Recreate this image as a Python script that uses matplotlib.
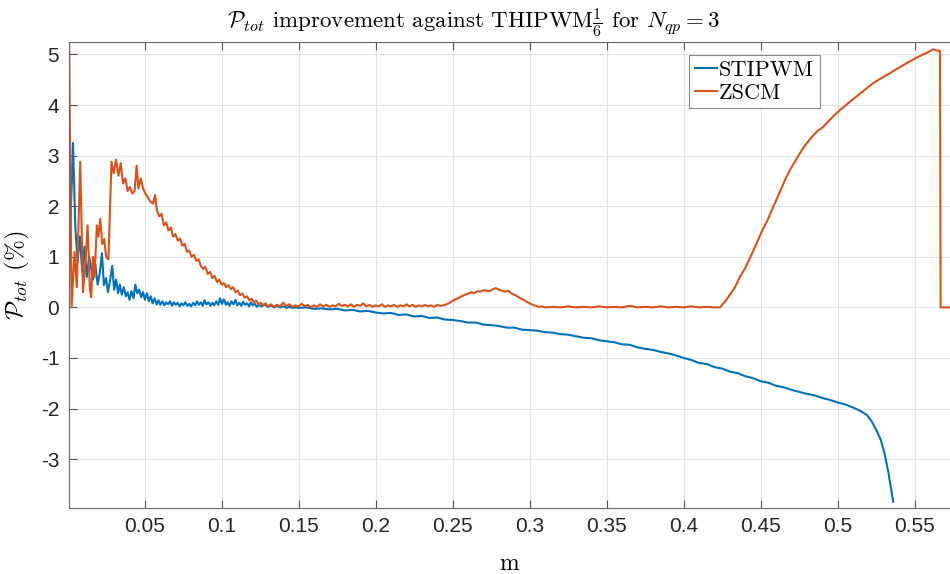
import matplotlib
matplotlib.use("Agg")
import matplotlib.pyplot as plt

plt.rcParams['mathtext.fontset'] = 'cm'

# ZSCM curve (m, P_tot improvement in %)
m_zscm = [
    0.0010, 0.0026, 0.0045, 0.0060, 0.0082, 0.0100, 0.0118, 0.0130, 0.0145, 0.0153,
    0.0165, 0.0175, 0.0190, 0.0200, 0.0212, 0.0225, 0.0238, 0.0250, 0.0265, 0.0285,
    0.0300, 0.0315, 0.0330, 0.0345, 0.0360, 0.0375, 0.0390, 0.0405, 0.0420, 0.0435,
    0.0448, 0.0460, 0.0475, 0.0490, 0.0505, 0.0520, 0.0535, 0.0555, 0.0568, 0.0580,
    0.0595, 0.0610, 0.0625, 0.0640, 0.0655, 0.0670, 0.0685, 0.0700, 0.0715, 0.0730,
    0.0745, 0.0760, 0.0775, 0.0790, 0.0805, 0.0820, 0.0835, 0.0850, 0.0865, 0.0880,
    0.0895, 0.0910, 0.0925, 0.0940, 0.0955, 0.0970, 0.0985, 0.1000, 0.1015, 0.1030,
    0.1045, 0.1060, 0.1075, 0.1090, 0.1105, 0.1120, 0.1135, 0.1150, 0.1165, 0.1180,
    0.1195, 0.1210, 0.1225, 0.1240, 0.1255, 0.1270, 0.1285, 0.1300, 0.1320, 0.1340,
    0.1360, 0.1380, 0.1400, 0.1420, 0.1440, 0.1460, 0.1480, 0.1500, 0.1520, 0.1540,
    0.1560, 0.1580, 0.1600, 0.1620, 0.1640, 0.1660, 0.1680, 0.1700, 0.1720, 0.1740,
    0.1760, 0.1780, 0.1800, 0.1820, 0.1840, 0.1860, 0.1880, 0.1900, 0.1920, 0.1940,
    0.1960, 0.1980, 0.2000, 0.2020, 0.2040, 0.2060, 0.2080, 0.2100, 0.2120, 0.2140,
    0.2160, 0.2180, 0.2200, 0.2220, 0.2240, 0.2260, 0.2280, 0.2300, 0.2320, 0.2340,
    0.2360, 0.2380, 0.2400, 0.2420, 0.2440, 0.2460, 0.2480, 0.2500, 0.2520, 0.2540,
    0.2560, 0.2580, 0.2600, 0.2620, 0.2640, 0.2660, 0.2680, 0.2700, 0.2720, 0.2740,
    0.2760, 0.2780, 0.2800, 0.2820, 0.2840, 0.2860, 0.2880, 0.2900, 0.2920, 0.2940,
    0.2960, 0.2980, 0.3000, 0.3020, 0.3040, 0.3060, 0.3080, 0.3100, 0.3150, 0.3200,
    0.3250, 0.3300, 0.3350, 0.3400, 0.3450, 0.3500, 0.3550, 0.3600, 0.3650, 0.3700,
    0.3750, 0.3800, 0.3850, 0.3900, 0.3950, 0.4000, 0.4050, 0.4100, 0.4150, 0.4200,
    0.4236, 0.4270, 0.4300, 0.4330, 0.4366, 0.4400, 0.4440, 0.4474, 0.4510, 0.4545,
    0.4582, 0.4620, 0.4655, 0.4690, 0.4730, 0.4765, 0.4800, 0.4835, 0.4870, 0.4906,
    0.4940, 0.4975, 0.5015, 0.5050, 0.5085, 0.5123, 0.5160, 0.5195, 0.5230, 0.5265,
    0.5300, 0.5340, 0.5375, 0.5410, 0.5448, 0.5485, 0.5520, 0.5555, 0.5590, 0.5620,
    0.5640, 0.5664, 0.5668, 0.5730,
]
p_zscm = [
    5.24, 0.00, 1.10, 0.40, 2.88, 0.30, 1.00, 1.62, 0.35, 0.20,
    1.00, 0.60, 1.62, 1.40, 1.75, 1.25, 1.35, 1.00, 0.95, 2.88,
    2.65, 2.92, 2.60, 2.85, 2.45, 2.55, 2.30, 2.38, 2.25, 2.30,
    2.80, 2.35, 2.55, 2.35, 2.25, 2.18, 2.10, 2.05, 2.22, 1.92,
    1.80, 1.85, 1.62, 1.68, 1.52, 1.58, 1.40, 1.45, 1.32, 1.36,
    1.22, 1.26, 1.10, 1.12, 1.00, 1.04, 0.92, 0.95, 0.82, 0.76,
    0.80, 0.66, 0.70, 0.58, 0.62, 0.50, 0.55, 0.45, 0.48, 0.40,
    0.44, 0.36, 0.40, 0.30, 0.33, 0.24, 0.27, 0.19, 0.22, 0.14,
    0.17, 0.10, 0.13, 0.06, 0.09, 0.04, 0.08, 0.02, 0.06, 0.01,
    0.05, 0.02, 0.09, 0.03, 0.06, 0.01, 0.04, 0.02, 0.07, 0.02,
    0.05, 0.00, 0.04, 0.01, 0.06, 0.02, 0.05, 0.01, 0.04, 0.02,
    0.07, 0.03, 0.05, 0.02, 0.06, 0.01, 0.05, 0.03, 0.08, 0.02,
    0.05, 0.01, 0.04, 0.02, 0.06, 0.01, 0.04, 0.02, 0.05, 0.01,
    0.04, 0.02, 0.06, 0.02, 0.05, 0.01, 0.04, 0.02, 0.05, 0.02,
    0.04, 0.01, 0.05, 0.03, 0.04, 0.06, 0.09, 0.13, 0.16, 0.19,
    0.22, 0.25, 0.27, 0.30, 0.28, 0.32, 0.31, 0.34, 0.33, 0.32,
    0.36, 0.38, 0.35, 0.33, 0.31, 0.33, 0.28, 0.25, 0.22, 0.18,
    0.15, 0.11, 0.08, 0.05, 0.03, 0.01, 0.02, 0.00, 0.01, 0.00,
    0.02, 0.00, 0.01, 0.00, 0.02, 0.00, 0.01, 0.00, 0.03, 0.00,
    0.01, 0.00, 0.02, 0.00, 0.01, 0.00, 0.02, 0.00, 0.01, 0.00,
    0.00, 0.12, 0.25, 0.38, 0.61, 0.78, 1.04, 1.27, 1.52, 1.73,
    1.99, 2.25, 2.50, 2.72, 2.92, 3.10, 3.25, 3.38, 3.49, 3.57,
    3.68, 3.79, 3.90, 3.99, 4.08, 4.17, 4.26, 4.35, 4.43, 4.50,
    4.56, 4.63, 4.70, 4.76, 4.83, 4.89, 4.95, 5.00, 5.05, 5.10,
    5.08, 5.07, 0.00, 0.00,
]

# STIPWM curve
m_stipwm = [
    0.0010, 0.0035, 0.0050, 0.0065, 0.0080, 0.0095, 0.0110, 0.0125, 0.0140, 0.0155,
    0.0165, 0.0180, 0.0195, 0.0210, 0.0223, 0.0236, 0.0250, 0.0262, 0.0275, 0.0290,
    0.0302, 0.0315, 0.0328, 0.0340, 0.0352, 0.0365, 0.0378, 0.0390, 0.0402, 0.0415,
    0.0428, 0.0440, 0.0452, 0.0465, 0.0478, 0.0490, 0.0502, 0.0515, 0.0528, 0.0540,
    0.0552, 0.0565, 0.0578, 0.0590, 0.0602, 0.0615, 0.0628, 0.0640, 0.0652, 0.0665,
    0.0678, 0.0690, 0.0702, 0.0715, 0.0728, 0.0740, 0.0752, 0.0765, 0.0778, 0.0790,
    0.0802, 0.0815, 0.0828, 0.0840, 0.0852, 0.0865, 0.0878, 0.0890, 0.0902, 0.0915,
    0.0928, 0.0940, 0.0952, 0.0965, 0.0978, 0.0990, 0.1002, 0.1015, 0.1028, 0.1040,
    0.1052, 0.1065, 0.1078, 0.1090, 0.1102, 0.1115, 0.1128, 0.1140, 0.1152, 0.1165,
    0.1178, 0.1190, 0.1202, 0.1215, 0.1228, 0.1240, 0.1260, 0.1280, 0.1300, 0.1320,
    0.1340, 0.1360, 0.1380, 0.1400, 0.1420, 0.1440, 0.1460, 0.1480, 0.1500, 0.1550,
    0.1600, 0.1650, 0.1700, 0.1750, 0.1800, 0.1850, 0.1900, 0.1950, 0.2000, 0.2050,
    0.2100, 0.2150, 0.2200, 0.2250, 0.2300, 0.2350, 0.2400, 0.2450, 0.2500, 0.2550,
    0.2600, 0.2650, 0.2700, 0.2750, 0.2800, 0.2850, 0.2900, 0.2950, 0.3000, 0.3050,
    0.3100, 0.3150, 0.3200, 0.3250, 0.3300, 0.3350, 0.3400, 0.3450, 0.3500, 0.3550,
    0.3600, 0.3650, 0.3700, 0.3750, 0.3800, 0.3850, 0.3900, 0.3950, 0.4000, 0.4050,
    0.4100, 0.4150, 0.4200, 0.4250, 0.4300, 0.4350, 0.4400, 0.4450, 0.4500, 0.4550,
    0.4600, 0.4650, 0.4700, 0.4750, 0.4800, 0.4850, 0.4900, 0.4950, 0.5000, 0.5050,
    0.5100, 0.5150, 0.5190, 0.5220, 0.5250, 0.5280, 0.5305, 0.5330, 0.5360,
]
p_stipwm = [
    0.80, 3.25, 1.60, 0.90, 1.40, 0.70, 1.20, 0.60, 1.00, 0.75,
    0.55, 0.85, 0.45, 0.70, 1.07, 0.44, 0.58, 0.30, 0.52, 0.82,
    0.35, 0.55, 0.28, 0.45, 0.25, 0.40, 0.22, 0.30, 0.15, 0.32,
    0.18, 0.45, 0.28, 0.35, 0.20, 0.30, 0.15, 0.28, 0.12, 0.22,
    0.08, 0.18, 0.06, 0.14, 0.05, 0.12, 0.04, 0.10, 0.06, 0.12,
    0.03, 0.10, 0.05, 0.09, 0.02, 0.08, 0.04, 0.10, 0.03, 0.07,
    0.02, 0.09, 0.04, 0.12, 0.05, 0.10, 0.03, 0.14, 0.06, 0.10,
    0.03, 0.09, 0.04, 0.12, 0.05, 0.18, 0.07, 0.16, 0.05, 0.10,
    0.03, 0.12, 0.06, 0.15, 0.04, 0.09, 0.03, 0.11, 0.05, 0.08,
    0.02, 0.10, 0.04, 0.07, 0.01, 0.05, 0.02, 0.06, 0.01, 0.04,
    0.00, 0.03, 0.00, 0.02, -0.01, 0.01, -0.01, 0.00, -0.01, 0.00,
    -0.03, -0.02, -0.04, -0.03, -0.06, -0.05, -0.08, -0.07, -0.10, -0.12,
    -0.11, -0.15, -0.14, -0.18, -0.17, -0.21, -0.20, -0.24, -0.25, -0.27,
    -0.30, -0.30, -0.34, -0.35, -0.37, -0.40, -0.40, -0.44, -0.45, -0.46,
    -0.49, -0.50, -0.53, -0.54, -0.57, -0.60, -0.61, -0.65, -0.67, -0.69,
    -0.73, -0.74, -0.79, -0.82, -0.84, -0.88, -0.91, -0.95, -1.00, -1.04,
    -1.10, -1.12, -1.18, -1.21, -1.27, -1.30, -1.36, -1.40, -1.46, -1.49,
    -1.55, -1.58, -1.63, -1.67, -1.71, -1.74, -1.79, -1.83, -1.88, -1.92,
    -1.98, -2.05, -2.13, -2.25, -2.42, -2.62, -2.90, -3.28, -3.84,
]

xticks = [0.05, 0.1, 0.15, 0.2, 0.25, 0.3, 0.35, 0.4, 0.45, 0.5, 0.55]
xtick_labels = ['0.05', '0.1', '0.15', '0.2', '0.25', '0.3', '0.35', '0.4', '0.45', '0.5', '0.55']
yticks = [-3, -2, -1, 0, 1, 2, 3, 4, 5]
ytick_labels = ['-3', '-2', '-1', '0', '1', '2', '3', '4', '5']

fig = plt.figure(figsize=(9.5, 5.74), dpi=100)
ax = fig.add_axes([0.0726, 0.1155, 0.9274, 0.8108])

# MATLAB default colours
ax.plot(m_stipwm, p_stipwm, color='#0072BD', linewidth=1.5, label='STIPWM')
ax.plot(m_zscm, p_zscm, color='#D95319', linewidth=1.5, label='ZSCM')

ax.set_xlim(0.0009, 0.5729)
ax.set_ylim(-3.96, 5.24)
ax.set_xticks(xticks)
ax.set_xticklabels(xtick_labels, fontsize=15, fontfamily='Liberation Sans', color='#262626')
ax.set_yticks(yticks)
ax.set_yticklabels(ytick_labels, fontsize=15, fontfamily='Liberation Sans', color='#262626')
ax.tick_params(direction='in', length=6, width=0.8, color='#555555',
               top=True, right=False, pad=7)

ax.grid(True, color='#e4e4e4', linewidth=0.8)
ax.set_axisbelow(True)
for side in ['left', 'bottom', 'top']:
    ax.spines[side].set_color('#666666')
    ax.spines[side].set_linewidth(0.8)
ax.spines['right'].set_visible(False)

# the title sits left of the axes centre in the original
ax.set_title(r'$\mathcal{P}_{tot}$ improvement against THIPWM$\frac{1}{6}$ for $N_{qp}=3$',
             fontfamily='cmr10', fontsize=16.5, pad=10, x=0.4586)
ax.set_xlabel('m', fontfamily='cmr10', fontsize=17, labelpad=12)
ax.set_ylabel(r'$\mathcal{P}_{tot}$ (%)', fontfamily='cmr10', fontsize=18, labelpad=6)

leg = ax.legend(loc='upper left', bbox_to_anchor=(0.704, 0.973), borderaxespad=0,
                prop={'family': 'cmr10', 'size': 16}, handlelength=1.0, handletextpad=0.1,
                borderpad=0.25, labelspacing=0.15, fancybox=False, framealpha=1,
                edgecolor='#888888')
leg.get_frame().set_linewidth(0.8)

fig.savefig('out.png', dpi=100)
